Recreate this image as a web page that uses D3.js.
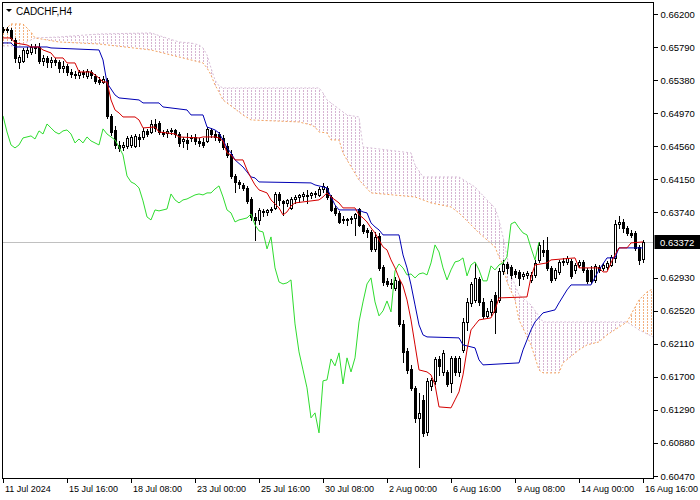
<!DOCTYPE html>
<html><head><meta charset="utf-8">
<script src="https://cdnjs.cloudflare.com/ajax/libs/d3/7.8.5/d3.min.js"></script>
<style>
body{margin:0;background:#fff}
svg{display:block}
text{font-family:"Liberation Sans",Arial,sans-serif}
</style>
</head><body>
<svg id="c" width="700" height="500"></svg>
<script>
const symbol = "CADCHF,H4";
const timeTickIdx = [0,16,32,48,64,80,96,112,128,144,160];
const timeLabels = ["11 Jul 2024","15 Jul 16:00","18 Jul 08:00","23 Jul 00:00","25 Jul 16:00","30 Jul 08:00","2 Aug 00:00","6 Aug 16:00","9 Aug 08:00","14 Aug 00:00","16 Aug 16:00"];
const priceTicks = [0.66200,0.65790,0.65380,0.64970,0.64560,0.64150,0.63740,0.62930,0.62520,0.62110,0.61700,0.61290,0.60880,0.60470];
const lastPrice = 0.63372;

const open = [0.66014,0.66002,0.66002,0.65878,0.65605,0.65618,0.65717,0.65729,0.65791,0.65791,
0.65618,0.65655,0.65605,0.65630,0.65605,0.65531,0.65556,0.65481,0.65456,0.65444,
0.65481,0.65432,0.65481,0.65432,0.65382,0.65357,0.65382,0.64936,0.64762,0.64576,
0.64551,0.64564,0.64576,0.64564,0.64675,0.64675,0.64750,0.64737,0.64836,0.64849,
0.64737,0.64725,0.64750,0.64762,0.64712,0.64626,0.64638,0.64663,0.64675,0.64626,
0.64613,0.64626,0.64762,0.64712,0.64712,0.64663,0.64564,0.64464,0.64192,0.64117,
0.64080,0.64043,0.63906,0.63683,0.63646,0.63745,0.63745,0.63770,0.63795,0.63968,
0.63882,0.63857,0.63795,0.63906,0.63931,0.63944,0.63944,0.63956,0.63981,0.63956,
0.64030,0.64043,0.63931,0.63795,0.63733,0.63658,0.63646,0.63658,0.63671,0.63782,
0.63584,0.63522,0.63497,0.63287,0.63448,0.63063,0.62890,0.62852,0.62803,0.62890,
0.62356,0.62022,0.61798,0.61563,0.61191,0.61414,0.61017,0.61588,0.61650,0.61922,
0.61761,0.61761,0.61625,0.61935,0.61761,0.62034,0.62381,0.62617,0.62654,0.62915,
0.62629,0.62456,0.62505,0.62716,0.62654,0.63014,0.63100,0.63063,0.63014,0.63001,
0.62952,0.62964,0.62902,0.62964,0.63150,0.63274,0.63274,0.63051,0.62927,0.63001,
0.63125,0.63125,0.63138,0.63026,0.63088,0.63125,0.63026,0.63026,0.62902,0.63063,
0.63051,0.63063,0.63088,0.63175,0.63596,0.63621,0.63547,0.63485,0.63485,0.63311,
0.63162];
const high = [0.66039,0.66039,0.66027,0.65903,0.65692,0.65779,0.65791,0.65828,0.65828,0.65841,
0.65692,0.65680,0.65667,0.65655,0.65630,0.65618,0.65580,0.65518,0.65494,0.65506,
0.65506,0.65518,0.65506,0.65456,0.65419,0.65432,0.65407,0.64960,0.64812,0.64626,
0.64613,0.64688,0.64700,0.64712,0.64712,0.64787,0.64775,0.64886,0.64898,0.64874,
0.64762,0.64775,0.64787,0.64775,0.64737,0.64675,0.64725,0.64700,0.64712,0.64663,
0.64663,0.64799,0.64787,0.64750,0.64737,0.64700,0.64601,0.64514,0.64216,0.64142,
0.64105,0.64068,0.63931,0.63733,0.63795,0.63782,0.63782,0.63807,0.63993,0.63993,
0.63894,0.63906,0.63931,0.63956,0.63968,0.63993,0.64018,0.63993,0.64006,0.64055,
0.64105,0.64068,0.63956,0.63820,0.63758,0.63696,0.63671,0.63696,0.63733,0.63795,
0.63596,0.63547,0.63522,0.63497,0.63485,0.63088,0.62927,0.62915,0.62939,0.62915,
0.62406,0.62059,0.61848,0.61588,0.61501,0.61476,0.61687,0.61687,0.61947,0.61960,
0.62034,0.61786,0.61960,0.61960,0.61960,0.62431,0.62679,0.62877,0.63113,0.62939,
0.62679,0.62555,0.62666,0.62753,0.63051,0.63150,0.63125,0.63088,0.63038,0.63026,
0.63001,0.63014,0.63001,0.63150,0.63373,0.63398,0.63435,0.63076,0.63051,0.63150,
0.63175,0.63200,0.63162,0.63113,0.63150,0.63150,0.63051,0.63076,0.63100,0.63088,
0.63113,0.63138,0.63212,0.63646,0.63696,0.63658,0.63572,0.63522,0.63510,0.63336,
0.63398];
const low = [0.65977,0.65977,0.65878,0.65605,0.65531,0.65605,0.65667,0.65704,0.65717,0.65593,
0.65568,0.65543,0.65543,0.65568,0.65481,0.65481,0.65444,0.65419,0.65407,0.65407,
0.65419,0.65407,0.65407,0.65345,0.65332,0.65345,0.64911,0.64700,0.64539,0.64502,
0.64514,0.64539,0.64551,0.64551,0.64564,0.64650,0.64688,0.64725,0.64750,0.64712,
0.64688,0.64675,0.64712,0.64675,0.64564,0.64551,0.64526,0.64626,0.64588,0.64564,
0.64551,0.64613,0.64675,0.64638,0.64613,0.64526,0.64427,0.64167,0.63993,0.64043,
0.64018,0.63857,0.63646,0.63398,0.63596,0.63696,0.63708,0.63745,0.63782,0.63832,
0.63708,0.63820,0.63782,0.63857,0.63869,0.63894,0.63857,0.63919,0.63931,0.63944,
0.63993,0.63906,0.63758,0.63708,0.63609,0.63609,0.63584,0.63609,0.63460,0.63572,
0.63485,0.63435,0.63262,0.63262,0.63026,0.62840,0.62828,0.62803,0.62778,0.62332,
0.61885,0.61749,0.61538,0.61141,0.60583,0.60968,0.60980,0.61538,0.61612,0.61724,
0.61724,0.61588,0.61513,0.61724,0.61712,0.62009,0.62282,0.62580,0.62629,0.62592,
0.62431,0.62431,0.62468,0.62245,0.62629,0.62976,0.62989,0.62927,0.62939,0.62840,
0.62915,0.62927,0.62877,0.62939,0.63125,0.63200,0.63026,0.62877,0.62902,0.62976,
0.63088,0.63100,0.62927,0.62989,0.63063,0.63001,0.62865,0.62865,0.62877,0.63001,
0.63026,0.63038,0.63076,0.63125,0.63547,0.63497,0.63460,0.63435,0.63274,0.63100,
0.63125];
const close = [0.66002,0.66014,0.65903,0.65655,0.65667,0.65754,0.65754,0.65791,0.65779,0.65618,
0.65655,0.65605,0.65630,0.65605,0.65531,0.65556,0.65481,0.65456,0.65444,0.65481,
0.65456,0.65494,0.65444,0.65370,0.65357,0.65394,0.64936,0.64737,0.64576,0.64539,
0.64576,0.64663,0.64675,0.64688,0.64650,0.64750,0.64712,0.64836,0.64787,0.64737,
0.64712,0.64750,0.64762,0.64712,0.64601,0.64650,0.64601,0.64675,0.64626,0.64601,
0.64576,0.64775,0.64712,0.64675,0.64638,0.64551,0.64452,0.64192,0.64117,0.64092,
0.64043,0.63882,0.63683,0.63646,0.63770,0.63758,0.63770,0.63782,0.63968,0.63894,
0.63857,0.63894,0.63906,0.63931,0.63956,0.63968,0.63956,0.63981,0.63981,0.64030,
0.64068,0.63931,0.63770,0.63733,0.63621,0.63646,0.63658,0.63671,0.63720,0.63584,
0.63510,0.63497,0.63287,0.63435,0.63051,0.62877,0.62852,0.62865,0.62902,0.62356,
0.62009,0.61786,0.61563,0.61191,0.61253,0.61005,0.61650,0.61662,0.61922,0.61836,
0.61997,0.61612,0.61935,0.61761,0.61935,0.62381,0.62629,0.62852,0.62927,0.62629,
0.62456,0.62518,0.62641,0.62505,0.63014,0.63100,0.63051,0.62964,0.62976,0.62927,
0.62976,0.62989,0.62964,0.63113,0.63336,0.63249,0.63051,0.62902,0.63026,0.63125,
0.63138,0.63175,0.62952,0.63088,0.63125,0.63026,0.62890,0.62890,0.63076,0.63026,
0.63088,0.63113,0.63187,0.63596,0.63621,0.63547,0.63485,0.63460,0.63299,0.63150,
0.63372];

// Tenkan-sen (red), Kijun-sen (blue): [bar index, price]
const tenkan = [[0,0.65903],[2,0.65903],[3,0.65841],[6,0.65816],[7,0.65791],[9,0.65791],[10,0.65754],[12,0.65717],[13,0.65655],[15,0.65655],[16,0.65593],[18,0.65593],[19,0.65481],[22,0.65481],[23,0.65444],[24,0.65407],[25,0.65357],[26,0.65357],[27,0.65134],[28,0.65010],[29,0.64973],[30,0.64923],[33,0.64923],[34,0.64886],[35,0.64787],[38,0.64799],[39,0.64737],[43,0.64712],[44,0.64675],[49,0.64663],[50,0.64675],[53,0.64675],[54,0.64663],[55,0.64626],[56,0.64477],[57,0.64452],[58,0.64390],[60,0.64390],[61,0.64266],[62,0.64167],[63,0.64080],[64,0.64018],[66,0.63981],[67,0.63894],[69,0.63795],[70,0.63708],[71,0.63745],[72,0.63820],[73,0.63857],[79,0.63894],[80,0.63931],[81,0.63981],[82,0.63931],[84,0.63857],[85,0.63795],[88,0.63795],[89,0.63708],[90,0.63671],[91,0.63621],[92,0.63547],[93,0.63485],[95,0.63311],[96,0.63274],[97,0.63150],[98,0.63051],[99,0.62927],[100,0.62828],[101,0.62654],[102,0.62406],[103,0.62096],[104,0.61786],[106,0.61761],[107,0.61724],[108,0.61600],[109,0.61327],[112,0.61315],[113,0.61414],[114,0.61513],[115,0.61724],[116,0.62034],[117,0.62282],[118,0.62344],[119,0.62406],[122,0.62431],[123,0.62530],[124,0.62679],[131,0.62691],[132,0.62939],[133,0.63088],[136,0.63113],[137,0.63150],[143,0.63175],[144,0.63051],[149,0.63051],[150,0.63001],[151,0.63001],[152,0.63113],[153,0.63212],[154,0.63299],[156,0.63299],[157,0.63361],[160,0.63373]];
const kijun = [[0,0.65841],[2,0.65841],[3,0.65791],[11,0.65791],[12,0.65779],[24,0.65754],[25,0.65630],[26,0.65345],[28,0.65196],[29,0.65159],[34,0.65134],[35,0.65097],[39,0.65097],[40,0.65047],[46,0.65010],[47,0.64948],[50,0.64948],[51,0.64799],[53,0.64762],[54,0.64725],[55,0.64638],[56,0.64539],[57,0.64477],[58,0.64390],[60,0.64303],[61,0.64241],[62,0.64179],[63,0.64167],[64,0.64117],[77,0.64105],[78,0.64080],[81,0.64043],[82,0.63931],[83,0.63832],[84,0.63770],[89,0.63770],[90,0.63745],[91,0.63733],[92,0.63609],[93,0.63560],[94,0.63522],[95,0.63460],[99,0.63460],[100,0.63212],[101,0.63051],[102,0.62840],[103,0.62592],[104,0.62344],[105,0.62220],[106,0.62195],[114,0.62183],[115,0.62096],[118,0.62059],[119,0.61910],[120,0.61848],[129,0.61873],[130,0.62034],[131,0.62158],[132,0.62282],[133,0.62381],[135,0.62493],[138,0.62530],[139,0.62617],[141,0.62778],[142,0.62840],[147,0.62840],[149,0.63026],[151,0.63175],[153,0.63175],[154,0.63299],[160,0.63299]];
// Chikou span (green), one value per bar starting at bar 0
const chikou = [0.64936,0.64737,0.64576,0.64539,0.64576,0.64663,0.64675,0.64688,0.64650,0.64750,
0.64712,0.64836,0.64787,0.64737,0.64712,0.64750,0.64762,0.64712,0.64601,0.64650,
0.64601,0.64675,0.64626,0.64601,0.64576,0.64775,0.64712,0.64675,0.64638,0.64551,
0.64452,0.64192,0.64117,0.64092,0.64043,0.63882,0.63683,0.63646,0.63770,0.63758,
0.63770,0.63782,0.63968,0.63894,0.63857,0.63894,0.63906,0.63931,0.63956,0.63968,
0.63956,0.63981,0.63981,0.64030,0.64068,0.63931,0.63770,0.63733,0.63621,0.63646,
0.63658,0.63671,0.63720,0.63584,0.63510,0.63497,0.63287,0.63435,0.63051,0.62877,
0.62852,0.62865,0.62902,0.62356,0.62009,0.61786,0.61563,0.61191,0.61253,0.61005,
0.61650,0.61662,0.61922,0.61836,0.61997,0.61612,0.61935,0.61761,0.61935,0.62381,
0.62629,0.62852,0.62927,0.62629,0.62456,0.62518,0.62641,0.62505,0.63014,0.63100,
0.63051,0.62964,0.62976,0.62927,0.62976,0.62989,0.62964,0.63113,0.63336,0.63249,
0.63051,0.62902,0.63026,0.63125,0.63138,0.63175,0.62952,0.63088,0.63125,0.63026,
0.62890,0.62890,0.63076,0.63026,0.63088,0.63113,0.63187,0.63596,0.63621,0.63547,
0.63485,0.63460,0.63299,0.63150,0.63372];
// Senkou spans A (sandy brown) and B (thistle): [bar index, price]
const spanA = [[0,0.65965],[1,0.66027],[2,0.66076],[5,0.66076],[7,0.65977],[8,0.65903],[14,0.65853],[24,0.65828],[37,0.65754],[44,0.65667],[47,0.65630],[50,0.65593],[51,0.65531],[52,0.65444],[53,0.65320],[54,0.65233],[55,0.65134],[57,0.65060],[60,0.64948],[62,0.64886],[74,0.64861],[77,0.64824],[78,0.64799],[79,0.64737],[81,0.64725],[82,0.64638],[84,0.64638],[85,0.64477],[86,0.64390],[89,0.64142],[92,0.63981],[103,0.63931],[105,0.63894],[107,0.63857],[112,0.63807],[114,0.63733],[119,0.63485],[123,0.63311],[124,0.63187],[125,0.63088],[126,0.62877],[128,0.62654],[129,0.62406],[132,0.62096],[134,0.61786],[135,0.61749],[139,0.61749],[140,0.61873],[144,0.62034],[146,0.62096],[149,0.62133],[151,0.62220],[156,0.62381],[159,0.62654],[161,0.62753],[163,0.62803]];
const spanB = [[0,0.65804],[4,0.65804],[8,0.65903],[14,0.65915],[24,0.65952],[37,0.65965],[44,0.65853],[47,0.65841],[49,0.65816],[50,0.65779],[51,0.65692],[52,0.65531],[53,0.65382],[54,0.65308],[55,0.65283],[79,0.65283],[80,0.65221],[81,0.65134],[82,0.65097],[86,0.64948],[89,0.64923],[90,0.64551],[102,0.64477],[103,0.64328],[105,0.64179],[114,0.64179],[118,0.64055],[121,0.63894],[123,0.63795],[124,0.63646],[125,0.63435],[127,0.62964],[129,0.62716],[132,0.62592],[135,0.62381],[156,0.62381],[159,0.62282],[163,0.62183]];
// cloud segments: which span is on top between crossings
const cloudSegments = [[0,8,"A"],[8,156,"B"],[156,163,"A"]];

const svg = d3.select("#c");
const L = 2.5, T = 2.5, R = 653.5, B = 478.5;
const x = d3.scaleLinear().domain([0,160]).range([3,643]);
const y = d3.scaleLinear().domain([0.60470,0.66200]).range([476,14]);

const defs = svg.append("defs");
defs.append("clipPath").attr("id","clip").append("rect")
  .attr("x",L+0.5).attr("y",T+0.5).attr("width",R-L-1).attr("height",B-T-1);
function makePattern(id,color){
  const p = defs.append("pattern").attr("id",id).attr("patternUnits","userSpaceOnUse")
    .attr("x",x(0)).attr("y",0).attr("width",4).attr("height",3);
  p.append("rect").attr("x",0).attr("y",0).attr("width",1).attr("height",2).attr("fill",color);
}
const colA = "#f4a460", colB = "#d8bfd8";
makePattern("hatchA","#f2b080");
makePattern("hatchB","#d6b4d2");

const plot = svg.append("g").attr("clip-path","url(#clip)");

// cloud
const ln = d3.line().x(d=>x(d[0])).y(d=>y(d[1]));
cloudSegments.forEach(([a,b,top])=>{
  const pa = spanA.filter(d=>d[0]>=a && d[0]<=b);
  const pb = spanB.filter(d=>d[0]>=a && d[0]<=b).slice().reverse();
  plot.append("path").attr("d", ln(pa.concat(pb)) + "Z")
    .attr("fill", top==="A" ? "url(#hatchA)" : "url(#hatchB)").attr("stroke","none");
});
plot.append("path").attr("d",ln(spanB)).attr("fill","none").attr("stroke",colB).attr("stroke-dasharray","2,2");
plot.append("path").attr("d",ln(spanA)).attr("fill","none").attr("stroke",colA).attr("stroke-dasharray","2,2");

// bid line
plot.append("line").attr("x1",L).attr("x2",R)
  .attr("y1",Math.round(y(lastPrice))+0.5).attr("y2",Math.round(y(lastPrice))+0.5)
  .attr("stroke","#c0c0c0").attr("shape-rendering","crispEdges");

// candles
const bars = close.map((c,i)=>({i,o:open[i],h:high[i],l:low[i],c}));
const cg = plot.append("g").attr("shape-rendering","crispEdges");
cg.selectAll("line.w").data(bars).join("line").attr("class","w")
  .attr("x1",d=>Math.round(x(d.i))+0.5).attr("x2",d=>Math.round(x(d.i))+0.5)
  .attr("y1",d=>Math.round(y(d.h))).attr("y2",d=>Math.round(y(d.l))+1)
  .attr("stroke","#000");
cg.selectAll("rect.b").data(bars).join("rect").attr("class","b")
  .each(function(d){
    const cx = Math.round(x(d.i));
    const t = Math.round(y(Math.max(d.o,d.c))), bt = Math.round(y(Math.min(d.o,d.c)));
    const s = d3.select(this);
    if (d.c < d.o) {
      s.attr("x",cx-1).attr("y",t).attr("width",3).attr("height",Math.max(1,bt-t+1)).attr("fill","#000");
    } else {
      s.attr("x",cx-0.5).attr("y",t+0.5).attr("width",2).attr("height",Math.max(1,bt-t))
       .attr("fill","#fff").attr("stroke","#000");
    }
  });

// indicator lines
plot.append("path").attr("d",d3.line().x((d,i)=>x(i)).y(d=>y(d))(chikou))
  .attr("fill","none").attr("stroke","#2fdc2f").attr("stroke-width",1);
plot.append("path").attr("d",ln(kijun)).attr("fill","none").attr("stroke","#0000b4").attr("stroke-width",1);
plot.append("path").attr("d",ln(tenkan)).attr("fill","none").attr("stroke","#d40000").attr("stroke-width",1);

// frame
svg.append("rect").attr("x",L).attr("y",T).attr("width",R-L).attr("height",B-T)
  .attr("fill","none").attr("stroke","#000").attr("shape-rendering","crispEdges");

// axes
const xAxis = d3.axisBottom(x).tickValues(timeTickIdx).tickSize(4).tickPadding(3)
  .tickFormat((d,k)=>timeLabels[k]);
const gx = svg.append("g").attr("transform",`translate(0,${B})`).call(xAxis);
gx.select(".domain").remove();
gx.selectAll("line").attr("stroke","#000").attr("shape-rendering","crispEdges");
gx.selectAll("text").attr("text-anchor","start").attr("x",1.5)
  .style("font-family","'Liberation Sans',Arial,sans-serif").style("font-size","9px").attr("fill","#000");

const yAxis = d3.axisRight(y).tickValues(priceTicks).tickSize(4).tickPadding(3)
  .tickFormat(d3.format(".5f"));
const gy = svg.append("g").attr("transform",`translate(${R},0)`).call(yAxis);
gy.select(".domain").remove();
gy.selectAll("line").attr("stroke","#000").attr("shape-rendering","crispEdges");
gy.selectAll("text").style("font-family","'Liberation Sans',Arial,sans-serif").style("font-size","9.5px").attr("fill","#000");

// last price label
const yp = Math.round(y(lastPrice));
svg.append("rect").attr("x",R+1).attr("y",yp-7).attr("width",700-R-1).attr("height",14).attr("fill","#000");
svg.append("text").attr("x",R+6.5).attr("y",yp+3.5).text(d3.format(".5f")(lastPrice))
  .attr("fill","#fff").style("font-size","9.5px");

// title
svg.append("path").attr("d","M6,9L12,9L9,12Z").attr("fill","#000");
svg.append("text").attr("x",16).attr("y",15).text(symbol).attr("fill","#000").style("font-size","10px");
</script>
</body></html>
